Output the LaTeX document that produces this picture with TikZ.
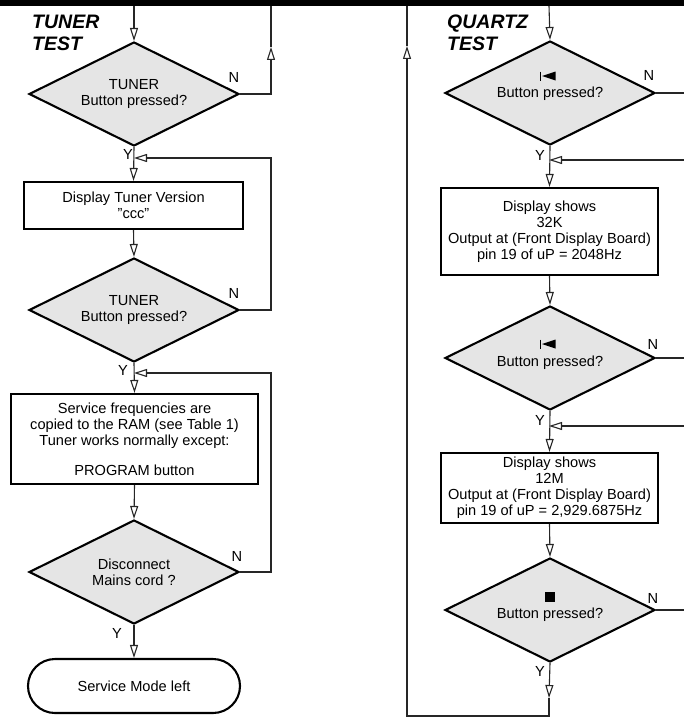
\documentclass[tikz,border=0pt]{standalone}
\usepackage{fontspec}
\setmainfont{Liberation Sans}
\usetikzlibrary{shapes.geometric,arrows.meta}
\begin{document}
\begin{tikzpicture}[x=1pt,y=-1pt,
  every node/.style={font=\fontsize{14.6}{16}\selectfont},
  dec/.style={diamond, draw, line width=2.1pt, fill=gray!20, minimum width=210pt, minimum height=104pt, inner sep=0pt, aspect=2, align=center},
  box/.style={rectangle, draw, line width=2.1pt, inner sep=0pt, align=center},
  con/.style={line width=1.1pt, draw=black!85},
  arr/.style={con, -{Triangle[open, length=13pt, width=8pt, fill=white]}},
  lab/.style={inner sep=0pt, font=\fontsize{14.6}{16}\selectfont},
  ttl/.style={font=\fontsize{19.5}{22}\selectfont\bfseries\itshape, align=left, inner sep=0pt, anchor=west},
]
\useasboundingbox (0,0) rectangle (684,717);
\fill[black] (0,0) rectangle (684,6);

% titles
\node[ttl] (t1) at (32,32.5) {TUNER\\TEST};
\node[ttl] (t2) at (447,32.5) {QUARTZ\\TEST};

% ---------- left column ----------
\node[dec] (d1) at (134,94) {TUNER\\Button pressed?};
\node[box, minimum width=219pt, minimum height=47pt] (b1) at (133.5,205.5) {Display Tuner Version\\\symbol{34}ccc\symbol{34}};
\node[dec] (d2) at (134,310) {TUNER\\Button pressed?};
\node[box, minimum width=247pt, minimum height=90pt] (b2) at (134.5,439) {Service frequencies are\\copied to the RAM (see Table 1)\\Tuner works normally except:\\[14pt]PROGRAM button};
\node[dec] (d3) at (134,572) {Disconnect\\Mains cord ?};
\node[draw, line width=2.1pt, rounded corners=27pt, minimum width=212pt, minimum height=54pt, inner sep=0pt] (term) at (134,686) {Service Mode left};

\coordinate (topL) at (134,6);
\coordinate (topN) at (271,6);
\coordinate (nl1) at (271,47);
\coordinate (j1) at (134,158);
\coordinate (j2) at (134,373);

\draw[arr] (topL) -- (d1.north);
\draw[arr] (d1.east) -| (nl1);
\draw[con] (nl1) -- (topN);
\draw[arr] (d1.south) -- (b1.north);
\draw[arr] (d2.east) -| (271,158) -- (j1);
\draw[arr] (b1.south) -- (d2.north);
\draw[arr] (d2.south) -- (b2.north);
\draw[arr] (d3.east) -| (271,373) -- (j2);
\draw[arr] (b2.south) -- (d3.north);
\draw[arr] (d3.south) -- (term.north);

\node[lab] (n1) at (234,77) {N};
\node[lab] (n2) at (234,293) {N};
\node[lab] (n3) at (237,556) {N};
\node[lab] (y1) at (128,154) {Y};
\node[lab] (y2) at (123,370) {Y};
\node[lab] (y3) at (117,633) {Y};

% ---------- right column ----------
\node[dec] (q1) at (550,93) {};
\node[lab] (q1t) at (550,94) {Button pressed?};
\node[box, minimum width=217pt, minimum height=87pt] (bq1) at (549.5,231.5) {Display shows\\32K\\Output at (Front Display Board)\\pin 19 of uP = 2048Hz};
\node[dec] (q2) at (550,358) {};
\node[lab] (q2t) at (550,363) {Button pressed?};
\node[box, minimum width=217pt, minimum height=70pt] (bq2) at (549.5,488) {Display shows\\12M\\Output at (Front Display Board)\\pin 19 of uP = 2,929.6875Hz};
\node[dec] (q3) at (550,610) {};
\node[lab] (q3t) at (550,615) {Button pressed?};

% icons
\draw[line width=1pt] (540.5,71.5) -- (540.5,80.5);
\fill (542,76) -- (555.5,71.5) -- (555.5,80.5) -- cycle;
\draw[line width=1pt] (540.5,339.5) -- (540.5,348.5);
\fill (542,344) -- (555.5,339.5) -- (555.5,348.5) -- cycle;
\fill (544.5,592) rectangle (554.5,602);

\coordinate (topR) at (549,6);
\coordinate (topLoop) at (407,6);
\coordinate (ul) at (407,46);
\coordinate (dq) at (549,698);
\coordinate (jq1) at (549,160);
\coordinate (jq2) at (549,426);
\coordinate (e1) at (684,93);
\coordinate (e2) at (684,358);
\coordinate (e3) at (684,610);
\coordinate (r1) at (684,160);
\coordinate (r2) at (684,426);

\draw[arr] (topR) -- (q1.north);
\draw[con] (q1.east) -- (e1);
\draw[arr] (r1) -- (jq1);
\draw[arr] (q1.south) -- (bq1.north);
\draw[arr] (bq1.south) -- (q2.north);
\draw[con] (q2.east) -- (e2);
\draw[arr] (r2) -- (jq2);
\draw[arr] (q2.south) -- (bq2.north);
\draw[arr] (bq2.south) -- (q3.north);
\draw[con] (q3.east) -- (e3);
\draw[arr] (q3.south) -- (dq);
\draw[arr] (dq) -- (549,716) -- (407,716) -- (ul);
\draw[con] (ul) -- (topLoop);

\node[lab] (m1) at (649,75) {N};
\node[lab] (m2) at (653,344) {N};
\node[lab] (m3) at (653,598) {N};
\node[lab] (z1) at (540,155) {Y};
\node[lab] (z2) at (540,420) {Y};
\node[lab] (z3) at (540,671) {Y};
\end{tikzpicture}
\end{document}
